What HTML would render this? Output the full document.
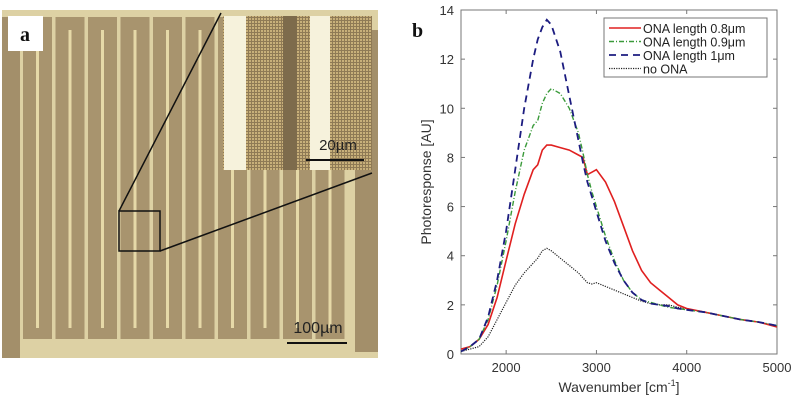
<!DOCTYPE html>
<html><head><meta charset="utf-8"><style>
html,body{margin:0;padding:0;background:#fff;}
body{width:797px;height:400px;position:relative;overflow:hidden;font-family:"Liberation Sans",sans-serif;}
</style></head><body>
<svg width="797" height="400" viewBox="0 0 797 400" xmlns="http://www.w3.org/2000/svg">
<defs>
<pattern id="dots" width="3" height="3" patternUnits="userSpaceOnUse"><rect width="3" height="3" fill="#8f7a55"/><rect width="2" height="2" fill="#c8b07a"/></pattern>
</defs>
<g id="panelA">
<rect x="2" y="10" width="376" height="348" fill="#ddd1a4"/>
<rect x="2" y="17" width="18" height="341" fill="#a38f6a"/>
<rect x="355" y="30" width="23" height="322" fill="#a38f6a"/>
<g id="fingers"></g>
<rect x="8" y="16" width="35" height="35" fill="#fff"/>
<text x="25" y="41" text-anchor="middle" font-family="Liberation Serif,serif" font-weight="bold" font-size="20" fill="#111">a</text>
<g>
<rect x="223" y="16" width="149" height="154" fill="url(#dots)"/>
<rect x="224" y="16" width="22" height="154" fill="#f6f2dc"/>
<rect x="283" y="16" width="14" height="154" fill="#7d6b4c"/>
<rect x="310" y="16" width="20" height="154" fill="#f6f2dc"/>
<text x="338" y="150" text-anchor="middle" font-size="15" fill="#222">20µm</text>
<line x1="306" y1="160" x2="364" y2="160" stroke="#111" stroke-width="2"/>
</g>
<rect x="119" y="211" width="41" height="40" fill="none" stroke="#111" stroke-width="1.5"/>
<line x1="119" y1="211" x2="221" y2="13" stroke="#111" stroke-width="1.5"/>
<line x1="160" y1="251" x2="372" y2="173" stroke="#111" stroke-width="1.5"/>
<text x="318" y="333" text-anchor="middle" font-size="16" fill="#222">100µm</text>
<line x1="287" y1="343" x2="347" y2="343" stroke="#111" stroke-width="2"/>
</g>
<text x="412" y="37" font-family="Liberation Serif,serif" font-weight="bold" font-size="20" fill="#111">b</text>
<g id="chart"></g>
</svg>
<script>
const NS="http://www.w3.org/2000/svg";
function mk(p,t,a){const e=document.createElementNS(NS,t);for(const k in a)e.setAttribute(k,a[k]);p.appendChild(e);return e;}
// microscope fingers
const fg=document.getElementById('fingers');
for(let k=0;k<10;k++){const x=23+k*32.5;
 const r=mk(fg,'rect',{x:x,y:17,width:29,height:322,fill:'#a8946e'});
 
 
 mk(fg,'rect',{x:x+13,y:30,width:3,height:298,fill:'#e6d9a8'});
}

// chart data
const xVals=[1500,1600,1700,1800,1900,2000,2100,2200,2300,2350,2400,2450,2500,2600,2700,2800,2850,2900,2950,3000,3100,3200,3300,3400,3500,3600,3700,3800,3900,4000,4200,4400,4600,4800,5000];
const red08=[0.2,0.3,0.6,1.2,2.3,3.8,5.3,6.5,7.5,7.7,8.3,8.5,8.5,8.4,8.3,8.1,8.0,7.3,7.4,7.5,7.0,6.2,5.2,4.2,3.4,2.9,2.6,2.3,2.0,1.85,1.7,1.55,1.4,1.3,1.1];
const green09=[0.1,0.3,0.6,1.4,2.8,4.6,6.6,8.3,9.3,9.5,10.2,10.6,10.8,10.6,10.0,9.0,8.2,7.3,6.6,6.0,4.8,3.8,3.0,2.5,2.2,2.1,2.0,1.9,1.85,1.8,1.7,1.55,1.4,1.3,1.15];
const blue1=[0.1,0.3,0.6,1.5,3.0,5.0,7.5,10.0,12.0,12.8,13.3,13.6,13.4,12.3,10.5,8.7,7.8,7.0,6.4,5.8,4.6,3.7,3.0,2.5,2.2,2.05,2.0,1.95,1.85,1.8,1.7,1.55,1.4,1.3,1.15];
const noOna=[0.1,0.2,0.3,0.7,1.4,2.1,2.8,3.3,3.7,3.9,4.2,4.3,4.2,3.9,3.6,3.3,3.1,2.9,2.85,2.9,2.75,2.6,2.45,2.3,2.15,2.05,2.0,2.0,1.9,1.85,1.7,1.55,1.4,1.3,1.15];
const xTicks=[2000,3000,4000,5000];
const yTicks=[0,2,4,6,8,10,12,14];
const seriesNames=["ONA length 0.8\u03bcm","ONA length 0.9\u03bcm","ONA length 1\u03bcm","no ONA"];

const L=461,R=777,T=10,B=354,X0=1500,X1=5000,Y0=0,Y1=14;
const sx=v=>L+(v-X0)/(X1-X0)*(R-L);
const sy=v=>B-(v-Y0)/(Y1-Y0)*(B-T);
const g=document.getElementById('chart');
const frame=mk(g,'rect',{x:L,y:T,width:R-L,height:B-T,fill:'#fff',stroke:'#777','stroke-width':1});


xTicks.forEach(v=>{
 mk(g,'line',{x1:sx(v),x2:sx(v),y1:B,y2:B-4,stroke:'#777'});
 mk(g,'line',{x1:sx(v),x2:sx(v),y1:T,y2:T+4,stroke:'#777'});
 const t=mk(g,'text',{x:sx(v),y:B+18,'text-anchor':'middle','font-size':13,fill:'#333'});
 
 
 t.textContent=v;
});
yTicks.forEach(v=>{
 mk(g,'line',{x1:L,x2:L+4,y1:sy(v),y2:sy(v),stroke:'#777'});
 mk(g,'line',{x1:R,x2:R-4,y1:sy(v),y2:sy(v),stroke:'#777'});
 const t=mk(g,'text',{x:L-7,y:sy(v)+5,'text-anchor':'end','font-size':13,fill:'#333'});
 
 
 t.textContent=v;
});
const xl=mk(g,'text',{x:(L+R)/2,y:392,'text-anchor':'middle','font-size':14,fill:'#333'});


xl.innerHTML='Wavenumber [cm<tspan dy="-6" font-size="9">-1</tspan><tspan dy="6">]</tspan>';
const yl=mk(g,'text',{x:0,y:0,'text-anchor':'middle','font-size':14,fill:'#333',transform:`translate(431,${(T+B)/2}) rotate(-90)`});


yl.textContent='Photoresponse [AU]';

const styles=[
 {d:red08,c:'#e02020',da:'',w:1.6,n:'series-0-8um'},
 {d:green09,c:'#3a9a3a',da:'5 2 1 2',w:1.4,n:'series-0-9um'},
 {d:blue1,c:'#1c1c80',da:'7 5',w:1.8,n:'series-1um'},
 {d:noOna,c:'#222',da:'1.2 1.2',w:1.2,n:'series-no-ona'}];
[3,0,1,2].forEach(i=>{const s=styles[i];
 const p=mk(g,'path',{d:s.d.map((v,j)=>(j?'L':'M')+sx(xVals[j]).toFixed(1)+','+sy(v).toFixed(1)).join(''),fill:'none',stroke:s.c,'stroke-width':s.w,'stroke-dasharray':s.da});
 
 
});
// legend
const lg=mk(g,'g',{});


mk(lg,'rect',{x:604,y:18,width:163,height:59,fill:'#fff',stroke:'#777'});
styles.forEach((s,i)=>{const y=28+i*13.5;
 mk(lg,'line',{x1:609,x2:641,y1:y,y2:y,stroke:s.c,'stroke-width':s.w,'stroke-dasharray':s.da});
 const t=mk(lg,'text',{x:643,y:y+5,'font-size':12.5,fill:'#222'});
 
 
 t.textContent=seriesNames[i];
});
</script>
</body></html>
